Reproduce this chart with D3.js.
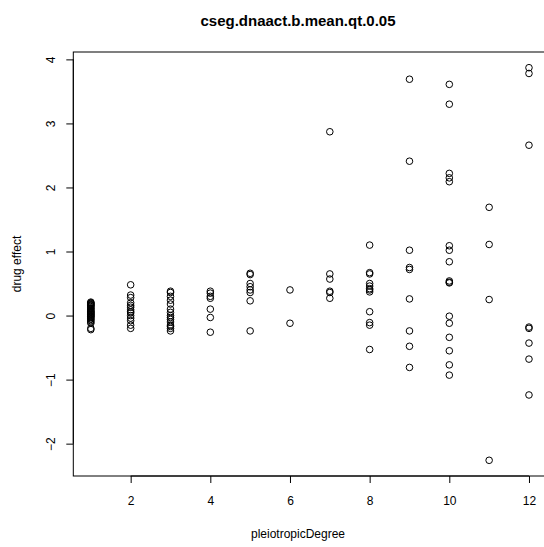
<!DOCTYPE html>
<html lang="en">
<head>
<meta charset="utf-8">
<script src="https://d3js.org/d3.v7.min.js"></script>
<style>
  body { margin: 0; background: white; }
  svg { display: block; font-family: "Liberation Sans", Arial, sans-serif; }
  .pt { fill: none; stroke: black; stroke-width: 1; }
</style>
</head>
<body>
<svg id="chart" width="544" height="547"></svg>
<script>
// drug effect values per pleiotropic degree
var degrees = [1, 2, 3, 4, 5, 6, 7, 8, 9, 10, 11, 12];
var deg1 = [0.21, 0.2, 0.19, 0.18, 0.17, 0.16, 0.15, 0.14, 0.12, 0.11, 0.1, 0.08, 0.07, 0.06, 0.05,
            0.04, 0.03, 0.02, 0.01, 0, -0.01, -0.02, -0.03, -0.05, -0.06, -0.08, -0.1, -0.12, -0.2, -0.22];
var deg2 = [0.48, 0.32, 0.28, 0.2, 0.16, 0.13, 0.09, 0.06, 0.04, 0, -0.04, -0.08, -0.15, -0.2];
var deg3 = [0.38, 0.36, 0.3, 0.24, 0.18, 0.1, 0.05, 0, -0.03, -0.06, -0.1, -0.15, -0.17, -0.2, -0.24];
var deg4 = [0.38, 0.35, 0.3, 0.27, 0.1, -0.03, -0.26];
var deg5 = [0.66, 0.64, 0.5, 0.45, 0.4, 0.36, 0.23, -0.24];
var deg6 = [0.4, -0.12];
var deg7 = [2.87, 0.65, 0.57, 0.38, 0.36, 0.27];
var deg8 = [1.1, 0.67, 0.65, 0.5, 0.46, 0.42, 0.4, 0.37, 0.06, -0.11, -0.15, -0.53];
var deg9 = [3.69, 2.41, 1.02, 0.75, 0.72, 0.26, -0.24, -0.48, -0.81];
var deg10 = [3.61, 3.3, 2.22, 2.15, 2.09, 1.09, 1.02, 0.84, 0.54, 0.52, 0.51, -0.01, -0.12, -0.34, -0.55, -0.77, -0.93];
var deg11 = [1.69, 1.11, 0.25, -2.26];
var deg12 = [3.87, 3.78, 2.66, -0.18, -0.2, -0.43, -0.68, -1.24];
var xTicks = [2, 4, 6, 8, 10, 12];
var yTicks = [-2, -1, 0, 1, 2, 3, 4];

var groups = [deg1, deg2, deg3, deg4, deg5, deg6, deg7, deg8, deg9, deg10, deg11, deg12];
var points = [];
groups.forEach(function(vals, i) {
  vals.forEach(function(v) { points.push({x: degrees[i], y: v}); });
});

var svg = d3.select("#chart");
var plotLeft = 73.3, plotRight = 546.5, plotTop = 52, plotBottom = 476;

// R style 4% padding on the data range
var xMin = d3.min(points, d => d.x), xMax = d3.max(points, d => d.x);
var yMin = d3.min(points, d => d.y), yMax = d3.max(points, d => d.y);
var xPad = (xMax - xMin) * 0.04, yPad = (yMax - yMin) * 0.04;

var x = d3.scaleLinear().domain([xMin - xPad, xMax + xPad]).range([plotLeft, plotRight]);
var y = d3.scaleLinear().domain([yMin - yPad, yMax + yPad]).range([plotBottom, plotTop]);

// box
svg.append("rect")
  .attr("x", plotLeft).attr("y", plotTop)
  .attr("width", plotRight - plotLeft).attr("height", plotBottom - plotTop)
  .attr("fill", "none").attr("stroke", "black").attr("stroke-width", 1);

// x axis
var xAxis = svg.append("g")
  .attr("transform", "translate(0," + plotBottom + ")")
  .call(d3.axisBottom(x).tickValues(xTicks).tickSize(7).tickPadding(13).tickFormat(d3.format("d")));
xAxis.select(".domain").attr("d", "M" + x(2) + ",0H" + x(12));
xAxis.selectAll("text").attr("fill", "black")
  .style("font-size", "12px").style("font-family", "Liberation Sans, Arial, sans-serif");

// y axis
var yAxis = svg.append("g")
  .attr("transform", "translate(" + plotLeft + ",0)")
  .call(d3.axisLeft(y).tickValues(yTicks).tickSize(7).tickFormat(d => d < 0 ? "\u2212" + Math.abs(d) : d));
yAxis.select(".domain").attr("d", "M0," + y(-2) + "V" + y(4));
yAxis.selectAll("text").attr("fill", "black")
  .style("font-size", "12px").style("font-family", "Liberation Sans, Arial, sans-serif")
  .attr("text-anchor", "middle")
  .attr("x", 0).attr("dy", 0)
  .attr("transform", "translate(-18,0) rotate(-90)");

// points
svg.append("g").selectAll("circle")
  .data(points)
  .enter()
  .append("circle")
  .attr("class", "pt")
  .attr("cx", d => x(d.x))
  .attr("cy", d => y(d.y))
  .attr("r", 3.3);

// titles
svg.append("text")
  .attr("x", 298).attr("y", 26)
  .attr("text-anchor", "middle")
  .style("font-size", "15px").style("font-weight", "bold")
  .text("cseg.dnaact.b.mean.qt.0.05");

svg.append("text")
  .attr("x", 298).attr("y", 538)
  .attr("text-anchor", "middle")
  .style("font-size", "12px")
  .text("pleiotropicDegree");

svg.append("text")
  .attr("transform", "translate(21," + ((plotTop + plotBottom) / 2) + ") rotate(-90)")
  .attr("text-anchor", "middle")
  .style("font-size", "12px")
  .text("drug effect");
</script>
</body>
</html>
